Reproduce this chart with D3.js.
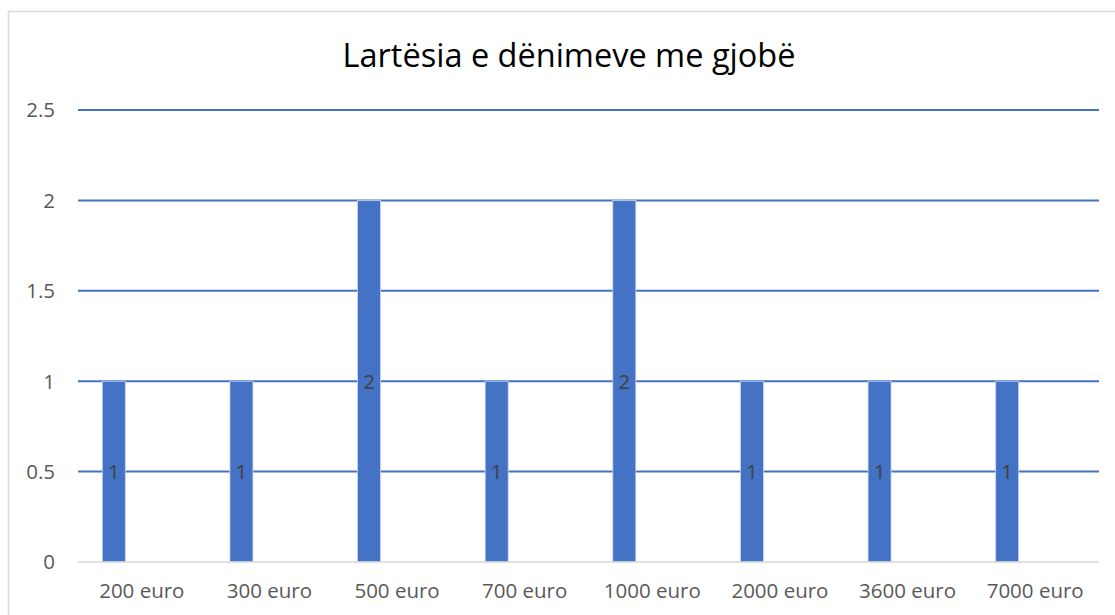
<!DOCTYPE html>
<html lang="sq">
<head>
    <meta charset="UTF-8">
    <title>Lartësia e dënimeve me gjobë</title>
    <script src="https://cdn.jsdelivr.net/npm/d3@7"></script>
    <style>
        body { margin: 0; background: #fff; }
        text { font-family: "Open Sans", "Noto Sans", sans-serif; }
    </style>
</head>
<body>

<script>
    var categories = ["200 euro", "300 euro", "500 euro", "700 euro", "1000 euro", "2000 euro", "3600 euro", "7000 euro"];
    var values = [1, 1, 2, 1, 2, 1, 1, 1];
    var yTicks = [0, 0.5, 1, 1.5, 2, 2.5];
    var title = "Lartësia e dënimeve me gjobë";

    var width = 1115;
    var height = 615;
    var margin = {left: 78, right: 16, top: 110, bottom: 53};

    var svg = d3.select('body')
            .append('svg')
            .attr('width', width)
            .attr('height', height);

    // chart frame
    svg.append('rect')
            .attr('x', 8.5)
            .attr('y', 11.5)
            .attr('width', width + 10)
            .attr('height', height + 10)
            .attr('fill', 'none')
            .attr('stroke', '#d9d9d9')
            .attr('stroke-width', 1.5);

    var x = d3.scaleBand()
            .domain(categories)
            .range([margin.left, width - margin.right]);
    var y = d3.scaleLinear()
            .domain([0, 2.5])
            .range([height - margin.bottom, margin.top]);

    svg.append('text')
            .attr('x', 569)
            .attr('y', 67)
            .attr('text-anchor', 'middle')
            .attr('font-size', 32.5)
            .attr('fill', '#000')
            .text(title);

    // gridlines
    svg.selectAll('line.grid')
            .data(yTicks.filter(function (d) { return d > 0; }))
            .enter()
            .append('line')
            .attr('class', 'grid')
            .attr('x1', margin.left)
            .attr('x2', width - margin.right)
            .attr('y1', function (d) { return y(d); })
            .attr('y2', function (d) { return y(d); })
            .attr('stroke', '#4472c4')
            .attr('stroke-width', 2);

    var barW = 23;
    var offset = -28;   // bar sits left of the category centre

    svg.selectAll('rect.bar')
            .data(values)
            .enter()
            .append('rect')
            .attr('class', 'bar')
            .attr('x', function (d, i) { return x(categories[i]) + x.bandwidth() / 2 + offset - barW / 2; })
            .attr('y', function (d) { return y(d); })
            .attr('width', barW)
            .attr('height', function (d) { return y(0) - y(d); })
            .attr('fill', '#4472c4')
            .attr('stroke', '#c9d6ee')
            .attr('stroke-width', 0.8);

    // zero axis line
    svg.append('line')
            .attr('x1', margin.left)
            .attr('x2', width - margin.right)
            .attr('y1', y(0))
            .attr('y2', y(0))
            .attr('stroke', '#d9d9d9')
            .attr('stroke-width', 1.5);

    // data labels
    svg.selectAll('text.lbl')
            .data(values)
            .enter()
            .append('text')
            .attr('class', 'lbl')
            .attr('x', function (d, i) { return x(categories[i]) + x.bandwidth() / 2 + offset; })
            .attr('y', function (d) { return y(d / 2); })
            .attr('dy', '0.36em')
            .attr('text-anchor', 'middle')
            .attr('font-size', 20.5)
            .attr('fill', '#404040')
            .text(function (d) { return d; });

    // y axis labels
    svg.selectAll('text.ytick')
            .data(yTicks)
            .enter()
            .append('text')
            .attr('class', 'ytick')
            .attr('x', 55)
            .attr('y', function (d) { return y(d); })
            .attr('dy', '0.36em')
            .attr('text-anchor', 'end')
            .attr('font-size', 20.5)
            .attr('fill', '#595959')
            .text(function (d) { return d; });

    // category labels
    svg.selectAll('text.xtick')
            .data(categories)
            .enter()
            .append('text')
            .attr('class', 'xtick')
            .attr('x', function (d) { return x(d) + x.bandwidth() / 2; })
            .attr('y', 598)
            .attr('text-anchor', 'middle')
            .attr('font-size', 20.5)
            .attr('fill', '#595959')
            .text(function (d) { return d; });
</script>
</body>
</html>
